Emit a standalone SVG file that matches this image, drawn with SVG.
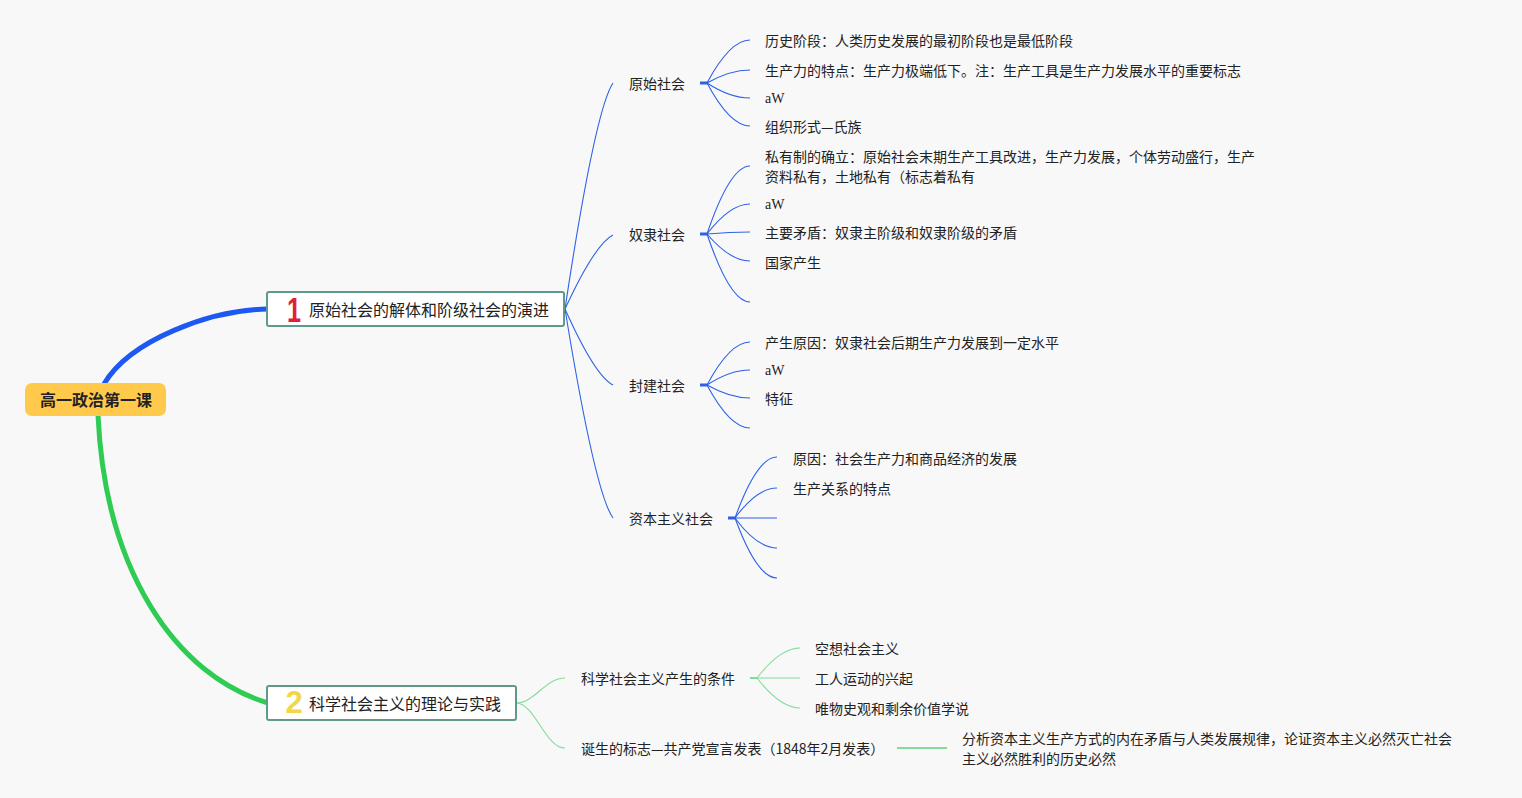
<svg xmlns="http://www.w3.org/2000/svg" width="1522" height="798" viewBox="0 0 1522 798">
<style>
text{font-family:"Noto Sans CJK SC","Liberation Sans",sans-serif;fill:#222;dominant-baseline:central}
.t3{font-size:14px}
.t2{font-size:14px}
.t1{font-size:16px}
.serif{font-family:"Liberation Serif","Noto Sans CJK SC",serif}
.num{font-family:"Liberation Sans",sans-serif;font-weight:bold;text-anchor:middle}
.bl{fill:none;stroke:#2d62e6;stroke-width:1.1}
.blt{fill:none;stroke:#2d62e6;stroke-width:3}
.gl{fill:none;stroke:#83dc9a;stroke-width:1.1}
.glt{fill:none;stroke:#83dc9a;stroke-width:2}
.box{fill:#ffffff;stroke:#5e9a8a;stroke-width:2}
</style>
<rect width="1522" height="798" fill="#f8f8f8"/>
<g id="connectors">
<path d="M104,384 C130,340 210,310 268,309" fill="none" stroke="#1d58f2" stroke-width="5"/>
<path d="M98,415 C105,570 175,675 268,703" fill="none" stroke="#2ecc52" stroke-width="5"/>
<path class="bl" d="M565,309 Q595,110 613,83"/>
<path class="bl" d="M565,309 Q595,244 613,235"/>
<path class="bl" d="M565,309 Q595,376 613,385"/>
<path class="bl" d="M565,309 Q595,493 613,518"/>
<path class="blt" d="M700,83 H708"/>
<path class="bl" d="M707,83 Q730,40 750,40"/>
<path class="bl" d="M707,83 Q730,70 750,70"/>
<path class="bl" d="M707,83 Q730,98 750,98"/>
<path class="bl" d="M707,83 Q730,126 750,126"/>
<path class="blt" d="M700,234 H708"/>
<path class="bl" d="M707,234 Q730,166 750,166"/>
<path class="bl" d="M707,234 Q730,204 750,204"/>
<path class="bl" d="M707,234 Q730,232 750,232"/>
<path class="bl" d="M707,234 Q730,261 750,261"/>
<path class="bl" d="M707,234 Q730,302 750,302"/>
<path class="blt" d="M700,385 H708"/>
<path class="bl" d="M707,385 Q730,342 750,342"/>
<path class="bl" d="M707,385 Q730,370 750,370"/>
<path class="bl" d="M707,385 Q730,398 750,398"/>
<path class="bl" d="M707,385 Q730,428 750,428"/>
<path class="blt" d="M728,518 H736"/>
<path class="bl" d="M735,518 Q757,457 777,457"/>
<path class="bl" d="M735,518 Q757,488 777,488"/>
<path class="bl" d="M735,518 H777"/>
<path class="bl" d="M735,518 Q757,548 777,548"/>
<path class="bl" d="M735,518 Q757,578 777,578"/>
<path class="gl" d="M516,703 C535,703 545,678 565,678"/>
<path class="gl" d="M516,703 C535,703 545,748 565,748"/>
<path class="glt" d="M750,678 H758"/>
<path class="gl" d="M757,678 Q780,648 800,648"/>
<path class="gl" d="M757,678 H800"/>
<path class="gl" d="M757,678 Q780,708 800,708"/>
<path class="glt" d="M897,748 H947"/>
</g>
<g id="root">
<rect x="25" y="383" width="141" height="33" rx="7" fill="#ffc94c"/>
<text x="96" y="399" font-size="16" font-weight="bold" text-anchor="middle">高一政治第一课</text>
</g>
<g id="branch1">
<rect class="box" x="267" y="292" width="297" height="34" rx="2"/>
<text class="num" transform="translate(294,309) scale(0.72,1)" x="0" y="0" font-size="35" style="fill:#e0203a">1</text>
<text class="t1" x="309" y="309">原始社会的解体和阶级社会的演进</text>
</g>
<g id="branch2">
<rect class="box" x="267" y="686" width="249" height="34" rx="2"/>
<text class="num" x="294" y="702" font-size="31" style="fill:#f3d548">2</text>
<text class="t1" x="309" y="703">科学社会主义的理论与实践</text>
</g>
<g id="n-yuanshi"><text class="t2" x="629" y="83">原始社会</text></g>
<g id="n-nuli"><text class="t2" x="629" y="234">奴隶社会</text></g>
<g id="n-fengjian"><text class="t2" x="629" y="385">封建社会</text></g>
<g id="n-ziben"><text class="t2" x="629" y="518">资本主义社会</text></g>
<g id="n-ys1"><text class="t3" x="765" y="40">历史阶段：人类历史发展的最初阶段也是最低阶段</text></g>
<g id="n-ys2"><text class="t3" x="765" y="70">生产力的特点：生产力极端低下。注：生产工具是生产力发展水平的重要标志</text></g>
<g id="n-ys3"><text class="t3 serif" x="765" y="98">aW</text></g>
<g id="n-ys4"><text class="t3" x="765" y="126">组织形式—氏族</text></g>
<g id="n-nl1"><text class="t3" x="765" y="156">私有制的确立：原始社会末期生产工具改进，生产力发展，个体劳动盛行，生产</text><text class="t3" x="765" y="176">资料私有，土地私有（标志着私有</text></g>
<g id="n-nl2"><text class="t3 serif" x="765" y="204">aW</text></g>
<g id="n-nl3"><text class="t3" x="765" y="232">主要矛盾：奴隶主阶级和奴隶阶级的矛盾</text></g>
<g id="n-nl4"><text class="t3" x="765" y="262">国家产生</text></g>
<g id="n-fj1"><text class="t3" x="765" y="342">产生原因：奴隶社会后期生产力发展到一定水平</text></g>
<g id="n-fj2"><text class="t3 serif" x="765" y="370">aW</text></g>
<g id="n-fj3"><text class="t3" x="765" y="398">特征</text></g>
<g id="n-zb1"><text class="t3" x="793" y="458">原因：社会生产力和商品经济的发展</text></g>
<g id="n-zb2"><text class="t3" x="793" y="488">生产关系的特点</text></g>
<g id="n-tiaojian"><text class="t2" x="581" y="678">科学社会主义产生的条件</text></g>
<g id="n-biaozhi"><text class="t2" x="581" y="748">诞生的标志—共产党宣言发表（1848年2月发表）</text></g>
<g id="n-tj1"><text class="t3" x="815" y="648">空想社会主义</text></g>
<g id="n-tj2"><text class="t3" x="815" y="678">工人运动的兴起</text></g>
<g id="n-tj3"><text class="t3" x="815" y="708">唯物史观和剩余价值学说</text></g>
<g id="n-bz1"><text class="t3" x="962" y="738">分析资本主义生产方式的内在矛盾与人类发展规律，论证资本主义必然灭亡社会</text><text class="t3" x="962" y="758">主义必然胜利的历史必然</text></g>
</svg>
